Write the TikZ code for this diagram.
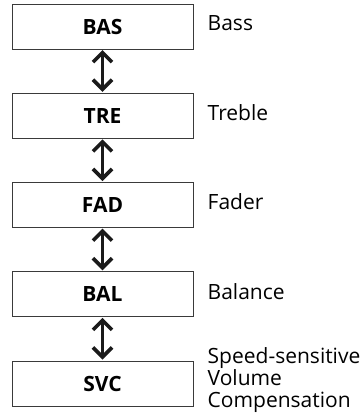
\documentclass[tikz,border=0pt]{standalone}
\usepackage{fontspec}
\setmainfont{Open Sans}
\usepackage{tikz}
\usetikzlibrary{arrows.meta, positioning}
\definecolor{boxline}{HTML}{3a3a3a}
\definecolor{arrowcol}{HTML}{1a1a1a}

\begin{document}
\begin{tikzpicture}[
    x=1pt, y=-1pt,
    modebox/.style={rectangle, draw=boxline, line width=0.9pt, minimum width=181pt, minimum height=45pt, inner sep=0pt, outer sep=0pt, font=\fontsize{21}{24}\selectfont\bfseries, align=center},
    modelabel/.style={inner sep=0pt, anchor=west, font=\fontsize{21}{22}\selectfont, align=left},
    updown/.style={{Straight Barb[sharp, length=9.5pt, width=19pt]}-{Straight Barb[sharp, length=9.5pt, width=19pt]}, line width=3.6pt, arrowcol, shorten <=1pt, shorten >=1.5pt},
    node distance=44.25pt,
  ]
  \useasboundingbox (0,0) rectangle (361,416);

  \node[modebox, anchor=north west] (bas) at (12,4) {BAS};
  \node[modebox, below=of bas] (tre) {TRE};
  \node[modebox, below=of tre] (fad) {FAD};
  \node[modebox, below=of fad] (bal) {BAL};
  \node[modebox, below=of bal] (svc) {SVC};

  % Connections
  \draw[updown] (bas) -- (tre);
  \draw[updown] (tre) -- (fad);
  \draw[updown] (fad) -- (bal);
  \draw[updown] (bal) -- (svc);

  % Labels
  \node[modelabel, right=14.5pt of bas, yshift=3pt] (basl) {Bass};
  \node[modelabel, right=14.5pt of tre, yshift=3pt] (trel) {Treble};
  \node[modelabel, right=14.5pt of fad, yshift=3pt] (fadl) {Fader};
  \node[modelabel, right=14.5pt of bal, yshift=3pt] (ball) {Balance};
  \node[modelabel, right=14.5pt of svc, yshift=3pt] (svcl) {Speed-sensitive\\Volume\\Compensation};
\end{tikzpicture}
\end{document}
